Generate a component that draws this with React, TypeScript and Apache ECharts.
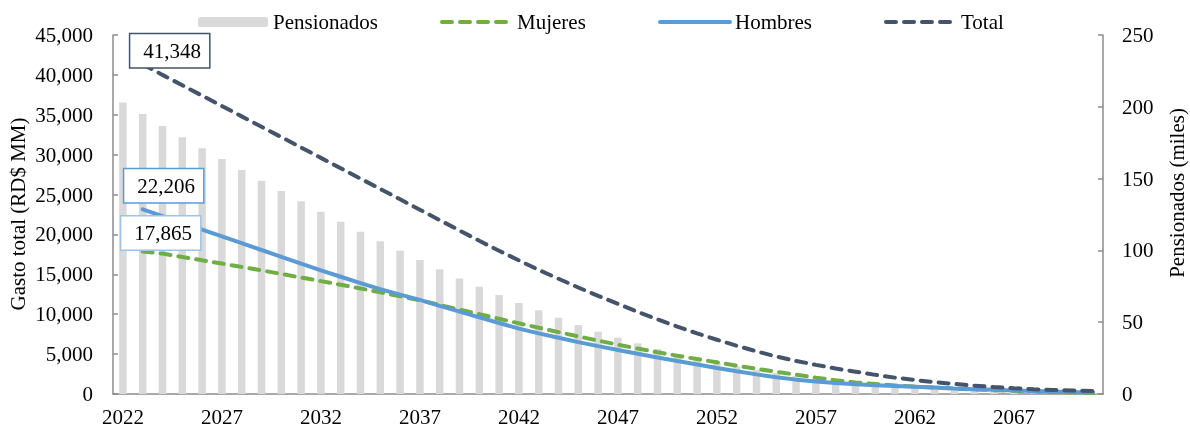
import React, { useEffect, useRef } from "react";
import * as echarts from "echarts";

const years: string[] = [
  "2022","2023","2024","2025","2026","2027","2028","2029","2030","2031",
  "2032","2033","2034","2035","2036","2037","2038","2039","2040","2041",
  "2042","2043","2044","2045","2046","2047","2048","2049","2050","2051",
  "2052","2053","2054","2055","2056","2057","2058","2059","2060","2061",
  "2062","2063","2064","2065","2066","2067","2068","2069","2070","2071",
];

// Pensionados (miles), right axis
const pensionados: number[] = [
  203, 195, 186.6, 178.8, 171.1, 163.6, 156.0, 148.5, 141.4, 134.2,
  127.0, 120.0, 113.0, 106.3, 99.8, 93.3, 86.8, 80.5, 74.7, 68.9,
  63.4, 58.3, 53.1, 48.0, 43.4, 39.2, 35.3, 31.3, 27.9, 24.8,
  21.8, 19.2, 16.8, 14.6, 12.6, 10.9, 9.4, 8.0, 6.8, 5.7,
  4.8, 4.0, 3.3, 2.7, 2.2, 1.8, 1.4, 1.1, 0.8, 0.6,
];

// Gasto (RD$ MM), left axis; 2022 has no value
const mujeres: (number | null)[] = [
  null, 17865, 17600, 17180, 16760, 16350, 15930, 15500, 15050, 14600,
  14150, 13700, 13230, 12750, 12250, 11750, 11170, 10590, 10010, 9430,
  8860, 8300, 7760, 7220, 6690, 6180, 5700, 5240, 4800, 4380,
  3970, 3550, 3160, 2790, 2420, 2050, 1720, 1450, 1250, 1080,
  930, 800, 680, 580, 480, 400, 320, 250, 190, 140,
];

const hombres: (number | null)[] = [
  null, 23150, 22300, 21450, 20600, 19750, 18900, 18050, 17200, 16350,
  15500, 14700, 13900, 13150, 12450, 11800, 11050, 10320, 9600, 8900,
  8200, 7600, 7050, 6500, 6000, 5520, 5040, 4580, 4130, 3700,
  3260, 2850, 2460, 2110, 1800, 1560, 1370, 1220, 1100, 1000,
  900, 800, 700, 610, 520, 440, 370, 300, 240, 200,
];

const total: (number | null)[] = [
  null, 41348, 40000, 38700, 37400, 36100, 34800, 33500, 32200, 30900,
  29600, 28300, 27000, 25700, 24400, 23100, 21800, 20500, 19200, 17950,
  16750, 15550, 14450, 13350, 12300, 11300, 10300, 9350, 8450, 7600,
  6800, 6050, 5350, 4700, 4150, 3650, 3200, 2800, 2400, 2050,
  1750, 1490, 1260, 1050, 870, 720, 600, 500, 430, 380,
];

// Printed data labels at the first plotted year (2023)
const labelTotal = "41,348";
const labelHombres = "22,206";
const labelMujeres = "17,865";

const FONT = '"Liberation Serif", "Times New Roman", serif';
const AXIS_COLOR = "#8c8c8c";

function withLabel(arr: (number | null)[], text: string, border: string, distance: number, offset: number[]) {
  return arr.map((v, i) =>
    i === 1
      ? {
          value: v,
          symbol: "circle",
          symbolSize: 0,
          label: {
            show: true,
            position: "top",
            distance,
            offset,
            formatter: () => text,
            fontFamily: FONT,
            fontSize: 21,
            color: "#000",
            lineHeight: 23,
            backgroundColor: "#fff",
            borderColor: border,
            borderWidth: 1.5,
            padding: [5, 8, 5, 13],
          },
        }
      : v
  );
}

export default function App() {
  const ref = useRef<HTMLDivElement>(null);

  useEffect(() => {
    if (!ref.current) return;
    const chart = echarts.init(ref.current, undefined, { renderer: "svg" });
    const legendCommon = {
      top: 11,
      padding: 0,
      itemWidth: 70,
      itemHeight: 14,
      textStyle: { fontFamily: FONT, fontSize: 21, color: "#000", lineHeight: 22 },
      selectedMode: false,
      lineStyle: { width: 4 },
      itemStyle: { opacity: 0 },
    };
    chart.setOption({
      animation: false,
      textStyle: { fontFamily: FONT },
      grid: { left: 113, right: 87, top: 35, bottom: 34, containLabel: false },
      legend: [
        {
          top: 11,
          padding: 0,
          left: 198,
          data: ["Pensionados"],
          itemWidth: 70,
          itemHeight: 10,
          textStyle: { fontFamily: FONT, fontSize: 21, color: "#000", lineHeight: 22 },
          selectedMode: false,
        },
        { ...legendCommon, left: 440, data: ["Mujeres"] },
        { ...legendCommon, left: 658, data: ["Hombres"] },
        { ...legendCommon, left: 884, data: ["Total"] },
      ],
      xAxis: {
        type: "category",
        data: years,
        boundaryGap: true,
        axisLine: { lineStyle: { color: AXIS_COLOR, width: 1.5 } },
        axisTick: { inside: true, interval: 4, length: 5, lineStyle: { color: AXIS_COLOR, width: 1.5 } },
        axisLabel: { interval: 4, fontSize: 21, color: "#000", fontFamily: FONT, margin: 12 },
        splitLine: { show: false },
      },
      yAxis: [
        {
          type: "value",
          min: 0,
          max: 45000,
          interval: 5000,
          axisLine: { show: true, lineStyle: { color: AXIS_COLOR, width: 1.5 } },
          axisTick: { show: true, inside: true, length: 5, lineStyle: { color: AXIS_COLOR, width: 1.5 } },
          axisLabel: {
            fontSize: 21,
            color: "#000",
            fontFamily: FONT,
            margin: 20,
            formatter: (v: number) => v.toLocaleString("en-US"),
          },
          splitLine: { show: false },
        },
        {
          type: "value",
          min: 0,
          max: 250,
          interval: 50,
          position: "right",
          axisLine: { show: true, lineStyle: { color: AXIS_COLOR, width: 1.5 } },
          axisTick: { show: true, inside: true, length: 5, lineStyle: { color: AXIS_COLOR, width: 1.5 } },
          axisLabel: { fontSize: 21, color: "#000", fontFamily: FONT, margin: 19 },
          splitLine: { show: false },
        },
      ],
      graphic: [
        {
          type: "text",
          x: 18,
          y: 214,
          rotation: Math.PI / 2,
          style: {
            text: "Gasto total (RD$ MM)",
            fontFamily: FONT,
            fontSize: 21,
            fill: "#000",
            align: "center",
            verticalAlign: "middle",
          },
        },
        {
          type: "text",
          x: 1177,
          y: 193,
          rotation: Math.PI / 2,
          style: {
            text: "Pensionados (miles)",
            fontFamily: FONT,
            fontSize: 21,
            fill: "#000",
            align: "center",
            verticalAlign: "middle",
          },
        },
      ],
      series: [
        {
          name: "Pensionados",
          type: "bar",
          yAxisIndex: 1,
          data: pensionados,
          barWidth: 7.5,
          itemStyle: { color: "#d9d9d9" },
        },
        {
          name: "Mujeres",
          type: "line",
          yAxisIndex: 0,
          data: withLabel(mujeres, labelMujeres, "#9dc3e6", 2, [18, 0]),
          symbol: "none",
          lineStyle: { color: "#70ad47", width: 4, type: [10, 8], cap: "round" },
          itemStyle: { color: "#70ad47" },
        },
        {
          name: "Hombres",
          type: "line",
          yAxisIndex: 0,
          data: withLabel(hombres, labelHombres, "#5b9bd5", 7, [21, 0]),
          symbol: "none",
          lineStyle: { color: "#5b9bd5", width: 4, cap: "round" },
          itemStyle: { color: "#5b9bd5" },
        },
        {
          name: "Total",
          type: "line",
          yAxisIndex: 0,
          data: withLabel(total, labelTotal, "#44546a", 0, [27, 3]),
          symbol: "none",
          lineStyle: { color: "#44546a", width: 4, type: [10, 8], cap: "round" },
          itemStyle: { color: "#44546a" },
        },
      ],
    });
    return () => chart.dispose();
  }, []);

  return (
    <div
      ref={ref}
      style={{ position: "fixed", left: 0, top: 0, width: 1190, height: 428 }}
    />
  );
}
